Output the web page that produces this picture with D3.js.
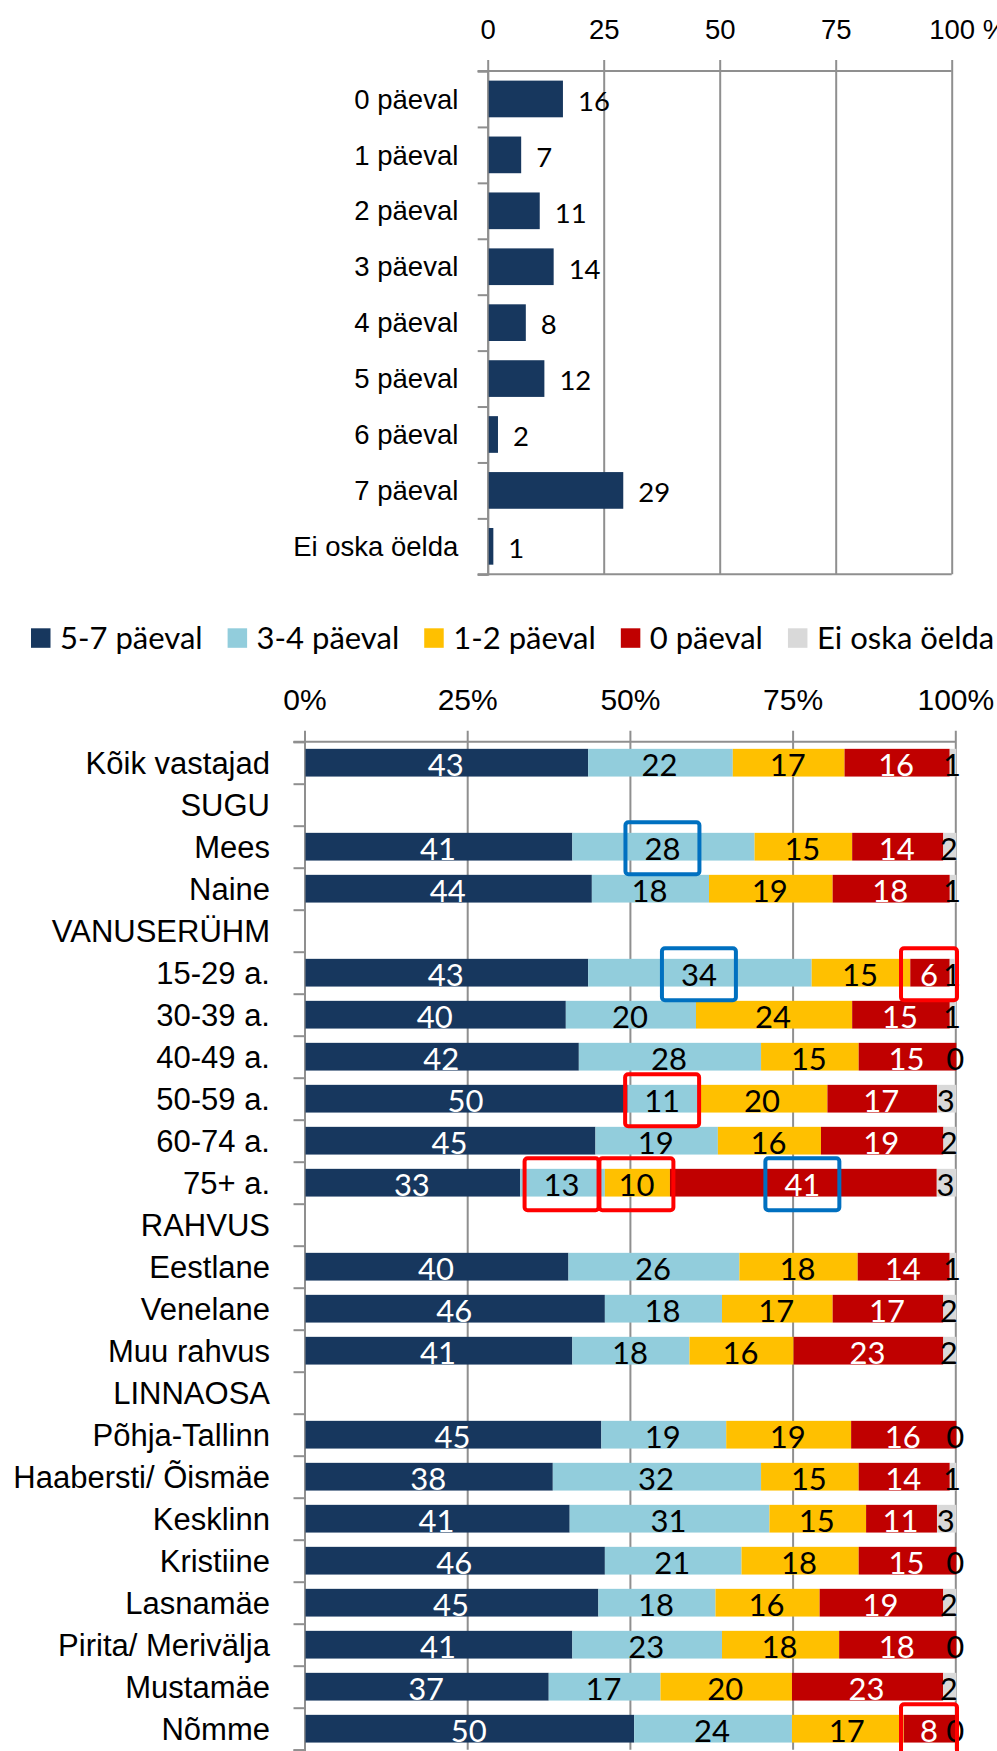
<!DOCTYPE html>
<html>
<head>
<meta charset="utf-8">
<script src="https://cdn.jsdelivr.net/npm/d3@7"></script>
<style>
  html, body { margin: 0; padding: 0; background: #fff; }
  svg { display: block; font-family: Lato, "Open Sans", sans-serif; }
</style>
</head>
<body>
<svg id="chart" width="997" height="1751"></svg>
<script>
// top chart: days per week
const topCats = ["0 päeval", "1 päeval", "2 päeval", "3 päeval", "4 päeval",
  "5 päeval", "6 päeval", "7 päeval", "Ei oska öelda"];
const topValues = [16, 7, 11, 14, 8, 12, 2, 29, 1];
const topTicks = [0, 25, 50, 75, 100];

// bottom chart: 100% stacked by group (null = section header row)
const groups = ["Kõik vastajad", "SUGU", "Mees", "Naine", "VANUSERÜHM",
  "15-29 a.", "30-39 a.", "40-49 a.", "50-59 a.", "60-74 a.", "75+ a.",
  "RAHVUS", "Eestlane", "Venelane", "Muu rahvus", "LINNAOSA",
  "Põhja-Tallinn", "Haabersti/ Õismäe", "Kesklinn", "Kristiine",
  "Lasnamäe", "Pirita/ Merivälja", "Mustamäe", "Nõmme"];
const seriesNames = ["5-7 päeval", "3-4 päeval", "1-2 päeval", "0 päeval", "Ei oska öelda"];
const s57 = [43, null, 41, 44, null, 43, 40, 42, 50, 45, 33, null, 40, 46, 41, null, 45, 38, 41, 46, 45, 41, 37, 50];
const s34 = [22, null, 28, 18, null, 34, 20, 28, 11, 19, 13, null, 26, 18, 18, null, 19, 32, 31, 21, 18, 23, 17, 24];
const s12 = [17, null, 15, 19, null, 15, 24, 15, 20, 16, 10, null, 18, 17, 16, null, 19, 15, 15, 18, 16, 18, 20, 17];
const s0  = [16, null, 14, 18, null, 6, 15, 15, 17, 19, 41, null, 14, 17, 23, null, 16, 14, 11, 15, 19, 18, 23, 8];
const sEi = [1, null, 2, 1, null, 1, 1, 0, 3, 2, 3, null, 1, 2, 2, null, 0, 1, 3, 0, 2, 0, 2, 0];
const bottomTicks = [0, 0.25, 0.5, 0.75, 1];

// highlighted labels
const highlights = [
  { cat: "Mees", key: "3-4 päeval", kind: "blue" },
  { cat: "15-29 a.", key: "3-4 päeval", kind: "blue" },
  { cat: "15-29 a.", key: "0 päeval", kind: "red" },
  { cat: "50-59 a.", key: "3-4 päeval", kind: "red" },
  { cat: "75+ a.", key: "3-4 päeval", kind: "red" },
  { cat: "75+ a.", key: "1-2 päeval", kind: "red" },
  { cat: "75+ a.", key: "0 päeval", kind: "blue" },
  { cat: "Nõmme", key: "0 päeval", kind: "red" }
];

const colors = ["#17375E", "#92CDDC", "#FFC000", "#C00000", "#D9D9D9"];
const labelColors = ["#fff", "#000", "#000", "#fff", "#000"];
const boxColor = { blue: "#0070C0", red: "#FF0000" };
const gridColor = "#8f8f8f";

const svg = d3.select("#chart");

// ---------- top chart ----------
const t = { left: 487.7, right: 951.7, top: 71, bottom: 574.3, font: 27.5 };
const xTop = d3.scaleLinear().domain([0, 100]).range([t.left, t.right]);
const yTop = d3.scaleBand().domain(topCats).range([t.top, t.bottom])
  .paddingInner(0.344).paddingOuter(0.172);
const yTopEdges = d3.scaleLinear().domain([0, topCats.length]).range([t.top, t.bottom]);

const gTop = svg.append("g").attr("font-size", t.font);

// vertical gridlines + top tick labels
const xAxisTop = gTop.append("g")
  .attr("transform", `translate(0,${t.top})`)
  .call(d3.axisTop(xTop).tickValues(topTicks).tickSize(11).tickPadding(20.7));
xAxisTop.select(".domain").remove();
xAxisTop.selectAll(".tick line")
  .attr("y1", t.bottom - t.top)
  .attr("stroke", gridColor).attr("stroke-width", 2);
xAxisTop.selectAll(".tick text")
  .attr("fill", "#000").attr("font-size", t.font).attr("font-family", null);
// "100 %" : keep the number centred on its gridline, unit trails off to the right
xAxisTop.selectAll(".tick text").filter(d => d === 100).each(function () {
  const txt = d3.select(this);
  const w = this.getComputedTextLength();
  txt.attr("text-anchor", "start").attr("x", -w / 2);
  txt.append("tspan").text(" %");
});

// horizontal frame lines
gTop.append("g").selectAll("line")
  .data([t.top, t.bottom])
  .join("line")
  .attr("x1", t.left - 10).attr("x2", t.right)
  .attr("y1", d => d).attr("y2", d => d)
  .attr("stroke", gridColor).attr("stroke-width", 2);

// category boundary ticks
const edgeAxisTop = gTop.append("g")
  .attr("transform", `translate(${t.left},0)`)
  .call(d3.axisLeft(yTopEdges).tickValues(d3.range(topCats.length + 1)).tickSize(10).tickFormat(""));
edgeAxisTop.selectAll("line, path").attr("stroke", gridColor).attr("stroke-width", 2);

// category labels
const catAxisTop = gTop.append("g")
  .attr("transform", `translate(${t.left},0)`)
  .call(d3.axisLeft(yTop).tickSize(0).tickPadding(29.4));
catAxisTop.select(".domain").remove();
catAxisTop.selectAll("text")
  .attr("fill", "#000").attr("font-size", t.font).attr("font-family", null)
  .attr("dy", "0.35em");

gTop.append("g").selectAll("rect")
  .data(topValues)
  .join("rect")
  .attr("x", xTop(0) + 1)
  .attr("y", (d, i) => yTop(topCats[i]))
  .attr("width", d => xTop(d) - xTop(0))
  .attr("height", yTop.bandwidth())
  .attr("fill", colors[0]);

gTop.append("g").selectAll("text")
  .data(topValues)
  .join("text")
  .attr("x", d => xTop(d) + 16)
  .attr("y", (d, i) => yTop(topCats[i]) + yTop.bandwidth() / 2)
  .attr("dy", "0.43em")
  .attr("fill", "#000")
  .text(d => d);

// ---------- legend ----------
const legend = svg.append("g").attr("font-size", 31);
let lx = 31;
seriesNames.forEach((name, i) => {
  legend.append("rect")
    .attr("x", lx).attr("y", 628.3).attr("width", 19.5).attr("height", 19.5)
    .attr("fill", colors[i]);
  const txt = legend.append("text")
    .attr("x", lx + 29).attr("y", 638).attr("dy", "0.36em")
    .attr("fill", "#000").text(name);
  lx += 29 + txt.node().getComputedTextLength() + 25;
});

// ---------- bottom chart ----------
const b = { left: 304.5, right: 955.3, top: 741.7, step: 42, font: 31 };
b.bottom = b.top + b.step * groups.length;
const xB = d3.scaleLinear().domain([0, 1]).range([b.left, b.right]);
const yB = d3.scaleBand().domain(groups).range([b.top, b.bottom])
  .paddingInner(0.34).paddingOuter(0.17);
const yBEdges = d3.scaleLinear().domain([0, groups.length]).range([b.top, b.bottom]);

const rows = groups.map((g, i) => ({
  cat: g,
  "5-7 päeval": s57[i], "3-4 päeval": s34[i], "1-2 päeval": s12[i],
  "0 päeval": s0[i], "Ei oska öelda": sEi[i]
})).filter(r => r["5-7 päeval"] !== null);

const stacked = d3.stack().keys(seriesNames).offset(d3.stackOffsetExpand)(rows);

const gB = svg.append("g").attr("font-size", b.font);

const xAxisB = gB.append("g")
  .attr("transform", `translate(0,${b.top})`)
  .call(d3.axisTop(xB).tickValues(bottomTicks).tickFormat(d3.format(".0%")).tickSize(11).tickPadding(21));
xAxisB.select(".domain").remove();
xAxisB.selectAll(".tick line")
  .attr("y1", b.bottom - b.top)
  .attr("stroke", gridColor).attr("stroke-width", 2);
xAxisB.selectAll(".tick text")
  .attr("fill", "#000").attr("font-size", 30).attr("font-family", null);

gB.append("line")
  .attr("x1", b.left - 11).attr("x2", b.right)
  .attr("y1", b.top).attr("y2", b.top)
  .attr("stroke", gridColor).attr("stroke-width", 2);

const edgeAxisB = gB.append("g")
  .attr("transform", `translate(${b.left},0)`)
  .call(d3.axisLeft(yBEdges).tickValues(d3.range(groups.length + 1)).tickSize(11).tickFormat(""));
edgeAxisB.selectAll("line, path").attr("stroke", gridColor).attr("stroke-width", 2);

const catAxisB = gB.append("g")
  .attr("transform", `translate(${b.left},0)`)
  .call(d3.axisLeft(yB).tickSize(0).tickPadding(34.5));
catAxisB.select(".domain").remove();
catAxisB.selectAll("text")
  .attr("fill", "#000").attr("font-size", b.font).attr("font-family", null)
  .attr("dy", "0.35em");

const layers = gB.append("g").selectAll("g")
  .data(stacked)
  .join("g")
  .attr("fill", (d, i) => colors[i]);

layers.selectAll("rect")
  .data(d => d)
  .join("rect")
  .attr("x", d => xB(d[0]) + 1)
  .attr("y", d => yB(d.data.cat))
  .attr("width", d => Math.max(0, xB(d[1]) - xB(d[0])))
  .attr("height", yB.bandwidth());

const labelPos = {};
const labelLayers = gB.append("g").selectAll("g")
  .data(stacked)
  .join("g")
  .attr("fill", (d, i) => labelColors[i])
  .attr("text-anchor", "middle");

labelLayers.selectAll("text")
  .data(d => d.map(p => ({ p, key: d.key })))
  .join("text")
  .attr("x", d => xB((d.p[0] + d.p[1]) / 2))
  .attr("y", d => yB(d.p.data.cat) + yB.bandwidth() / 2)
  .attr("dy", "0.44em")
  .text(d => d.p.data[d.key])
  .each(function (d) {
    labelPos[d.p.data.cat + "|" + d.key] = {
      x: xB((d.p[0] + d.p[1]) / 2),
      y: yB(d.p.data.cat) + yB.bandwidth() / 2,
      w: this.getComputedTextLength()
    };
  });

// highlight boxes
gB.append("g").selectAll("rect")
  .data(highlights)
  .join("rect")
  .each(function (h) {
    const p = labelPos[h.cat + "|" + h.key];
    const w = p.w + 38, hgt = 52;
    d3.select(this)
      .attr("x", p.x - w / 2).attr("y", p.y + 1.5 - hgt / 2)
      .attr("width", w).attr("height", hgt);
  })
  .attr("rx", 3)
  .attr("fill", "none")
  .attr("stroke", h => boxColor[h.kind])
  .attr("stroke-width", 4);
</script>
</body>
</html>
